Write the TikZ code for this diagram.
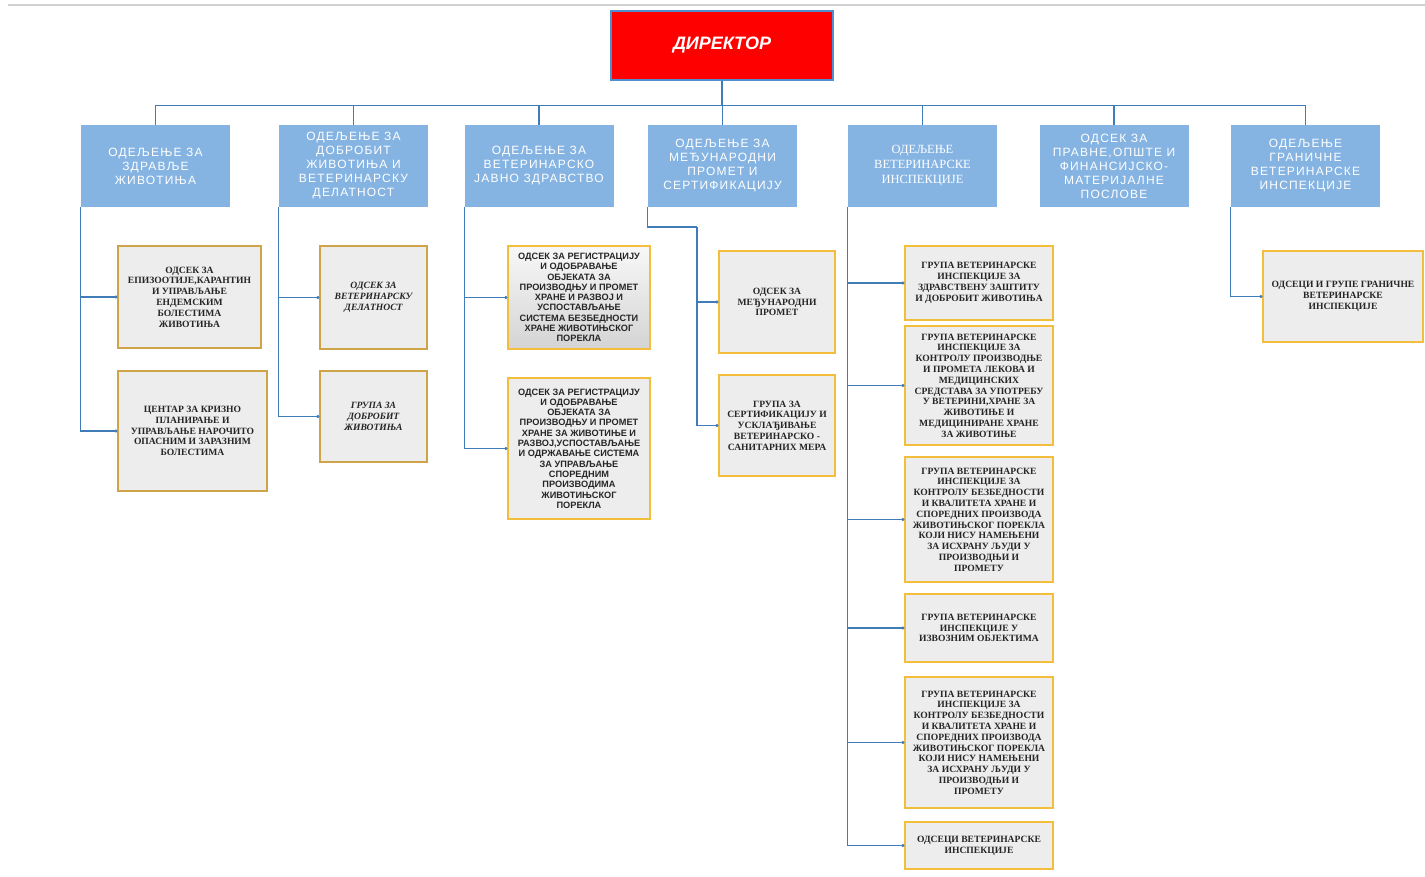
\documentclass[tikz,border=0pt]{standalone}
\usepackage{fontspec}
\setmainfont{Liberation Serif}
\setsansfont{Liberation Sans}
\newfontfamily\spacedsans[LetterSpace=10]{Liberation Sans}
\usetikzlibrary{arrows.meta,shadings}
\definecolor{dirred}{HTML}{FF0000}
\definecolor{dirblue}{HTML}{4F8FD0}
\definecolor{depblue}{HTML}{85B4E3}
\definecolor{linkblue}{HTML}{3F7CB8}
\definecolor{unitgray}{HTML}{EDEDED}
\definecolor{unitgold}{HTML}{F2BE3C}
\definecolor{unitbrown}{HTML}{CFA347}
\tikzstyle{director} = [draw=dirblue, line width=1.5pt, fill=dirred, text=white, font=\sffamily\bfseries\itshape\fontsize{18}{21}\selectfont, minimum width=222pt, minimum height=69pt]
\tikzstyle{department} = [fill=depblue, text=white, align=center, font=\spacedsans\fontsize{12}{14}\selectfont, minimum width=149pt, minimum height=82pt, inner sep=2pt]
\tikzstyle{unit} = [draw=unitgold, line width=1.3pt, fill=unitgray, text=black!85, align=center, font=\bfseries\fontsize{9.6}{10.8}\selectfont, inner sep=2pt]
\tikzstyle{unitsans} = [unit, font=\sffamily\bfseries\fontsize{9.2}{10.3}\selectfont]
\tikzstyle{bus} = [draw=linkblue, line width=1.1pt]
\tikzstyle{link} = [bus, -{Circle[length=3pt]}]

\begin{document}
\begin{tikzpicture}[x=1pt, y=-1pt]
\useasboundingbox (0,0) rectangle (1425,877);
%\draw[help lines, step=50] (0,0) grid (1425,877);
\draw[black!18, line width=1.5pt] (8,5) -- (1425,5);

\node[director] (dir) at (722,45.5) {\raisebox{3pt}{ДИРЕКТОР}};

% departments
\node[department] (dep1) at (155.5,166) {ОДЕЉЕЊЕ ЗА\\ЗДРАВЉЕ\\ЖИВОТИЊА};
\node[department] (dep2) at (353.5,166) {ОДЕЉЕЊЕ ЗА\\ДОБРОБИТ\\ЖИВОТИЊА И\\ВЕТЕРИНАРСКУ\\ДЕЛАТНОСТ};
\node[department] (dep3) at (539,166) {ОДЕЉЕЊЕ ЗА\\ВЕТЕРИНАРСКО\\ЈАВНО ЗДРАВСТВО};
\node[department] (dep4) at (722.5,166) {ОДЕЉЕЊЕ ЗА\\МЕЂУНАРОДНИ\\ПРОМЕТ И\\СЕРТИФИКАЦИЈУ};
\node[department, font=\fontsize{12.5}{15}\selectfont] (dep5) at (922.5,166) {ОДЕЉЕЊЕ\\ВЕТЕРИНАРСКЕ\\ИНСПЕКЦИЈЕ};
\node[department] (dep6) at (1114,166) {ОДСЕК ЗА\\ПРАВНЕ,ОПШТЕ И\\ФИНАНСИЈСКО-\\МАТЕРИЈАЛНЕ\\ПОСЛОВЕ};
\node[department] (dep7) at (1305.5,166) {ОДЕЉЕЊЕ\\ГРАНИЧНЕ\\ВЕТЕРИНАРСКЕ\\ИНСПЕКЦИЈЕ};

\foreach \d in {dep1,dep2,dep3,dep4,dep5,dep6,dep7}
  \draw[bus] (dir.south) -- ++(0,25) -| (\d.north);

% units
\node[unit, draw=unitbrown, minimum width=143pt, minimum height=102pt] (a1) at (189.5,297) {ОДСЕК ЗА\\ЕПИЗООТИЈЕ,КАРАНТИН\\И УПРАВЉАЊЕ\\ЕНДЕМСКИМ\\БОЛЕСТИМА\\ЖИВОТИЊА};
\node[unit, draw=unitbrown, minimum width=149pt, minimum height=120pt] (a2) at (192.5,431) {ЦЕНТАР ЗА КРИЗНО\\ПЛАНИРАЊЕ И\\УПРАВЉАЊЕ НАРОЧИТО\\ОПАСНИМ И ЗАРАЗНИМ\\БОЛЕСТИМА};
\node[unit, draw=unitbrown, font=\bfseries\itshape\fontsize{9.6}{10.8}\selectfont, minimum width=107pt, minimum height=103pt] (b1) at (373.5,297.5) {ОДСЕК ЗА\\ВЕТЕРИНАРСКУ\\ДЕЛАТНОСТ};
\node[unit, draw=unitbrown, font=\bfseries\itshape\fontsize{9.6}{10.8}\selectfont, minimum width=107pt, minimum height=91pt] (b2) at (373.5,416.5) {ГРУПА ЗА\\ДОБРОБИТ\\ЖИВОТИЊА};
\node[unitsans, top color=unitgray!40, bottom color=black!17, minimum width=142pt, minimum height=103pt] (c1) at (579,297.5) {ОДСЕК ЗА РЕГИСТРАЦИЈУ\\И ОДОБРАВАЊЕ\\ОБЈЕКАТА ЗА\\ПРОИЗВОДЊУ И ПРОМЕТ\\ХРАНЕ И РАЗВОЈ И\\УСПОСТАВЉАЊЕ\\СИСТЕМА БЕЗБЕДНОСТИ\\ХРАНЕ ЖИВОТИЊСКОГ\\ПОРЕКЛА};
\node[unitsans, minimum width=142pt, minimum height=141pt] (c2) at (579,448.5) {ОДСЕК ЗА РЕГИСТРАЦИЈУ\\И ОДОБРАВАЊЕ\\ОБЈЕКАТА ЗА\\ПРОИЗВОДЊУ И ПРОМЕТ\\ХРАНЕ ЗА ЖИВОТИЊЕ И\\РАЗВОЈ,УСПОСТАВЉАЊЕ\\И ОДРЖАВАЊЕ СИСТЕМА\\ЗА УПРАВЉАЊЕ\\СПОРЕДНИМ\\ПРОИЗВОДИМА\\ЖИВОТИЊСКОГ\\ПОРЕКЛА};
\node[unit, minimum width=116pt, minimum height=102pt] (d1) at (777,302) {ОДСЕК ЗА\\МЕЂУНАРОДНИ\\ПРОМЕТ};
\node[unit, minimum width=116pt, minimum height=101pt] (d2) at (777,425.5) {ГРУПА ЗА\\СЕРТИФИКАЦИЈУ И\\УСКЛАЂИВАЊЕ\\ВЕТЕРИНАРСКО -\\САНИТАРНИХ МЕРА};
\node[unit, minimum width=148pt, minimum height=74pt] (e1) at (979,283) {ГРУПА ВЕТЕРИНАРСКЕ\\ИНСПЕКЦИЈЕ ЗА\\ЗДРАВСТВЕНУ ЗАШТИТУ\\И ДОБРОБИТ ЖИВОТИЊА};
\node[unit, minimum width=148pt, minimum height=119pt] (e2) at (979,385.5) {ГРУПА ВЕТЕРИНАРСКЕ\\ИНСПЕКЦИЈЕ ЗА\\КОНТРОЛУ ПРОИЗВОДЊЕ\\И ПРОМЕТА ЛЕКОВА И\\МЕДИЦИНСКИХ\\СРЕДСТАВА ЗА УПОТРЕБУ\\У ВЕТЕРИНИ,ХРАНЕ ЗА\\ЖИВОТИЊЕ И\\МЕДИЦИНИРАНЕ ХРАНЕ\\ЗА ЖИВОТИЊЕ};
\node[unit, minimum width=148pt, minimum height=125pt] (e3) at (979,519.5) {ГРУПА ВЕТЕРИНАРСКЕ\\ИНСПЕКЦИЈЕ ЗА\\КОНТРОЛУ БЕЗБЕДНОСТИ\\И КВАЛИТЕТА ХРАНЕ И\\СПОРЕДНИХ ПРОИЗВОДА\\ЖИВОТИЊСКОГ ПОРЕКЛА\\КОЈИ НИСУ НАМЕЊЕНИ\\ЗА ИСХРАНУ ЉУДИ У\\ПРОИЗВОДЊИ И\\ПРОМЕТУ};
\node[unit, minimum width=148pt, minimum height=68pt] (e4) at (979,628) {ГРУПА ВЕТЕРИНАРСКЕ\\ИНСПЕКЦИЈЕ У\\ИЗВОЗНИМ ОБЈЕКТИМА};
\node[unit, minimum width=148pt, minimum height=131pt] (e5) at (979,742.5) {ГРУПА ВЕТЕРИНАРСКЕ\\ИНСПЕКЦИЈЕ ЗА\\КОНТРОЛУ БЕЗБЕДНОСТИ\\И КВАЛИТЕТА ХРАНЕ И\\СПОРЕДНИХ ПРОИЗВОДА\\ЖИВОТИЊСКОГ ПОРЕКЛА\\КОЈИ НИСУ НАМЕЊЕНИ\\ЗА ИСХРАНУ ЉУДИ У\\ПРОИЗВОДЊИ И\\ПРОМЕТУ};
\node[unit, minimum width=148pt, minimum height=47pt] (e6) at (979,845.5) {ОДСЕЦИ ВЕТЕРИНАРСКЕ\\ИНСПЕКЦИЈЕ};
\node[unit, minimum width=160pt, minimum height=91pt] (g1) at (1343,296.5) {ОДСЕЦИ И ГРУПЕ ГРАНИЧНЕ\\ВЕТЕРИНАРСКЕ\\ИНСПЕКЦИЈЕ};

% connectors
\foreach \u in {a1,a2} \draw[link] (dep1.south west) |- (\u.west);
\foreach \u in {b1,b2} \draw[link] (dep2.south west) |- (\u.west);
\foreach \u in {c1,c2} \draw[link] (dep3.south west) |- (\u.west);
\coordinate (d4bend) at (697,227);
\draw[bus] (dep4.south west) |- (d4bend);
\foreach \u in {d1,d2} \draw[link] (d4bend) |- (\u.west);
\foreach \u in {e1,e2,e3,e4,e5,e6} \draw[link] (dep5.south west) |- (\u.west);
\draw[link] (dep7.south west) |- (g1.west);
\end{tikzpicture}
\end{document}
